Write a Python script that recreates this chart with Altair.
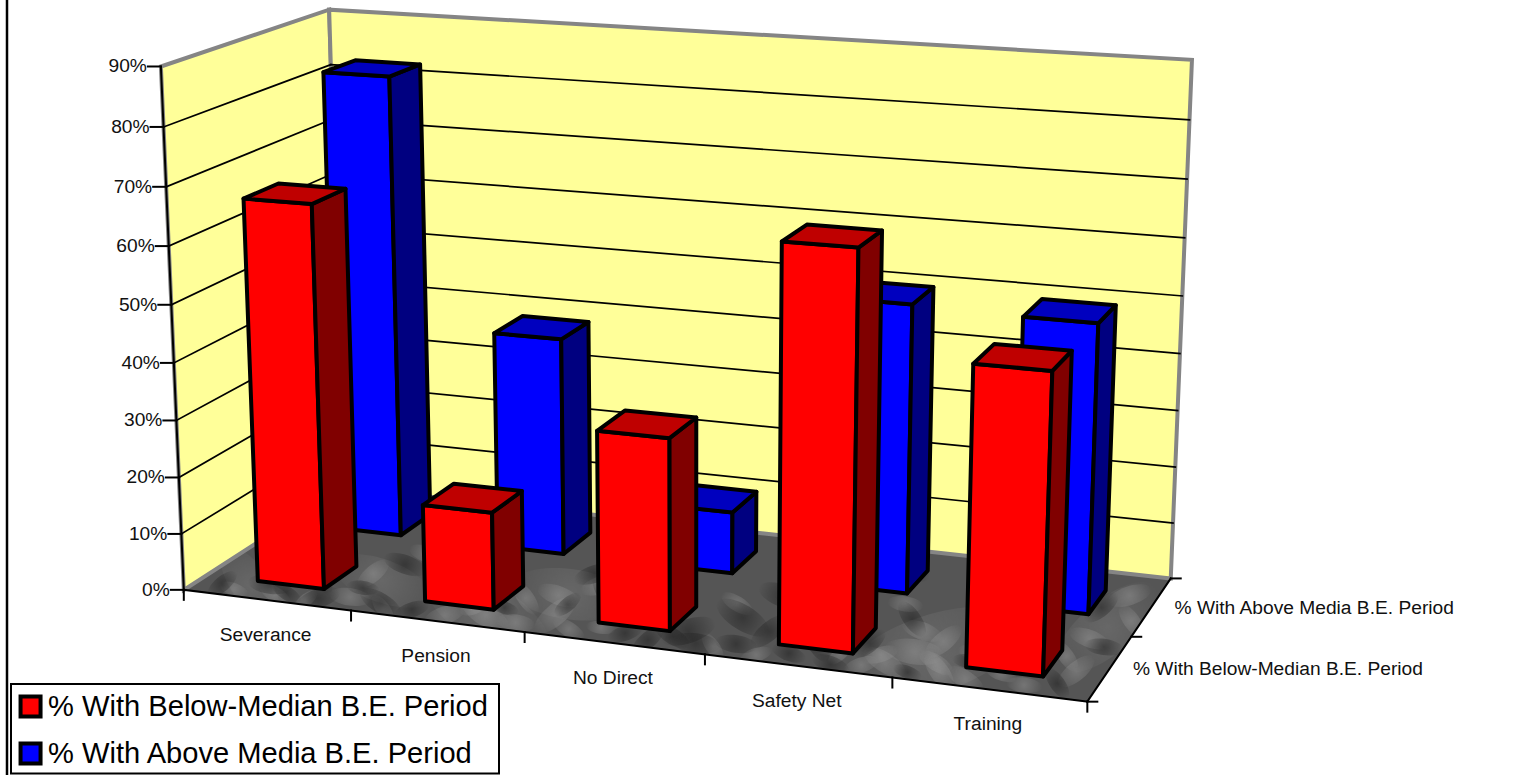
import altair as alt
import numpy as np
import pandas as pd

# Chart values
categories = ["Severance", "Pension", "No Direct", "Safety Net", "Training"]
below_median = [67, 17, 33, 67, 50]
above_median = [83, 39, 11, 50.5, 50]
series_names = ["% With Below-Median B.E. Period", "% With Above Media B.E. Period"]
value_ticks = [0, 10, 20, 30, 40, 50, 60, 70, 80, 90]
value_max = 90

# Mottling of the stone floor, as (along front, towards back, radius in px)
floor_light_broad = [(0.82, 0.20, 62), (0.34, 0.10, 48), (0.40, 0.32, 40), (0.97, 0.55, 42), (0.19, 0.25, 34), (0.06, 0.10, 30)]
floor_light_fine = [
    (0.30, 0.05, 14), (0.34, 0.09, 18), (0.38, 0.06, 13), (0.41, 0.15, 17), (0.39, 0.30, 15), (0.36, 0.25, 13),
    (0.42, 0.42, 14), (0.78, 0.10, 16), (0.80, 0.20, 20), (0.82, 0.30, 15), (0.79, 0.36, 14), (0.84, 0.08, 15),
    (0.76, 0.06, 12), (0.87, 0.05, 14), (0.93, 0.06, 12), (0.97, 0.20, 15), (0.96, 0.45, 14), (0.99, 0.62, 13),
    (0.97, 0.82, 15), (0.10, 0.05, 12), (0.18, 0.10, 14), (0.17, 0.30, 13), (0.20, 0.50, 13), (0.60, 0.06, 11),
    (0.65, 0.04, 11), (0.58, 0.40, 12), (0.75, 0.55, 12), (0.90, 0.75, 13), (0.50, 0.78, 12), (0.28, 0.80, 13),
    (0.77, 0.15, 12), (0.83, 0.14, 13), (0.86, 0.25, 12), (0.73, 0.12, 10), (0.90, 0.12, 11), (0.95, 0.30, 12),
    (0.32, 0.13, 10), (0.44, 0.06, 12), (0.47, 0.10, 10), (0.14, 0.03, 10), (0.05, 0.05, 10), (0.23, 0.04, 11),
]
floor_dark_fine = [
    (0.56, 0.15, 19), (0.60, 0.30, 20), (0.58, 0.07, 16), (0.53, 0.05, 13), (0.62, 0.50, 18), (0.66, 0.72, 16),
    (0.15, 0.06, 15), (0.22, 0.08, 16), (0.08, 0.12, 15), (0.03, 0.08, 12), (0.19, 0.40, 15), (0.44, 0.35, 16),
    (0.40, 0.50, 14), (0.92, 0.25, 15), (0.98, 0.40, 13), (0.95, 0.70, 14), (0.73, 0.04, 13), (0.77, 0.44, 14),
    (0.28, 0.90, 15), (0.72, 0.85, 15), (0.86, 0.18, 11), (0.75, 0.22, 13), (0.35, 0.16, 10), (0.12, 0.22, 13),
    (0.50, 0.08, 12), (0.55, 0.10, 13), (0.62, 0.10, 14), (0.64, 0.22, 15), (0.68, 0.08, 12), (0.70, 0.16, 13),
    (0.26, 0.06, 12), (0.11, 0.07, 11), (0.18, 0.18, 11), (0.41, 0.24, 11), (0.81, 0.05, 10), (0.96, 0.10, 12),
]
streak_angles = [-18, 32, 8, -40, 20, 55]

# Perspective camera of the 3-D box: (category, value, depth) -> page pixels
box_corners = [(0, 0, 0), (0, 1, 0), (0, 0, 1), (0, 1, 1), (1, 0, 1), (1, 1, 1), (1, 0, 0)]
page_corners = [(184, 590), (161, 66), (330, 484), (329, 10), (1171, 578), (1192, 60), (1087, 702)]
corner_weights = [1, 1, 0.1, 1, 1, 1, 1]  # the third corner sits behind the bars


def fit_camera(box, page, weights):
    rows = []
    for (a, b, c), (u, v), k in zip(box, page, weights):
        p = [a, b, c, 1]
        rows.append([k * t for t in p + [0, 0, 0, 0] + [-u * t for t in p]])
        rows.append([k * t for t in [0, 0, 0, 0] + p + [-v * t for t in p]])
    return np.linalg.svd(np.array(rows, float))[2][-1].reshape(3, 4)


camera = fit_camera(box_corners, page_corners, corner_weights)


def project(cat, val, depth):
    u, v, w = camera @ np.array([cat, val, depth, 1.0])
    return float(u / w), float(v / w)


n_cat = len(categories)
bar_span = (0.31, 0.71)      # bar extent inside a category slot
depth_span = (0.27, 0.68)    # bar extent inside a series slot

lines, labels = [], {"right": [], "center": [], "left": []}


def add_poly(store, key, pts, **style):
    for i, (x, y) in enumerate(pts):
        store.append({"key": key, "seq": i, "x": x, "y": y, **style})


def add_line(key, a, b, color="#000000", width=2.0):
    add_poly(lines, key, [a, b], color=color, width=width)


# Walls and floor
YELLOW, GRAY, FLOOR = "#ffff99", "#858585", "#555555"
side_wall = [project(0, 0, 0), project(0, 1, 0), project(0, 1, 1), project(0, 0, 1)]
back_wall = [project(0, 0, 1), project(0, 1, 1), project(1, 1, 1), project(1, 0, 1)]
floor = [project(0, 0, 0), project(0, 0, 1), project(1, 0, 1), project(1, 0, 0)]
floor_rows = []
add_poly(floor_rows, "floor", floor, face=FLOOR, edge=FLOOR, width=1)
walls = []
add_poly(walls, "side", side_wall, face=YELLOW, edge=GRAY, width=4)
add_poly(walls, "back", back_wall, face=YELLOW, edge=GRAY, width=4)

# White margin that trims the floor mottling along its open edges
W, H = 1539, 775
margin_rows = []
front_l, front_r, back_r = project(0, 0, 0), project(1, 0, 0), project(1, 0, 1)
add_poly(margin_rows, "margin", [
    (front_l[0] - 60, front_l[1]), front_l, front_r, back_r, (back_r[0] + 60, back_r[1]),
    (back_r[0] + 60, H), (front_l[0] - 60, H),
], face="#ffffff", edge="#ffffff", width=0)

# Value gridlines, ticks and tick labels
for t in value_ticks:
    f = t / value_max
    left = project(0, f, 0)
    if 0 < t < value_max:
        add_line(f"grid-side-{t}", left, project(0, f, 1), width=1.7)
        add_line(f"grid-back-{t}", project(0, f, 1), project(1, f, 1), width=1.7)
    add_line(f"ytick-{t}", (left[0] - 13, left[1]), left)
    labels["right"].append({"x": left[0] - 14, "y": left[1], "text": f"{t}%"})

# Axis edges
add_line("edge-left", project(0, 0, 0), project(0, 1, 0))
add_line("edge-front", project(0, 0, 0), project(1, 0, 0))
add_line("edge-right", project(1, 0, 0), project(1, 0, 1))
for i in range(n_cat + 1):
    p = project(i / n_cat, 0, 0)
    add_line(f"xtick-{i}", p, (p[0], p[1] + 10))
for i in range(3):
    p = project(1, 0, i / 2)
    add_line(f"ztick-{i}", p, (p[0] + 10, p[1]))

# Category and series labels
for i, name in enumerate(categories):
    p = project((i + 0.5) / n_cat, 0, 0)
    labels["center"].append({"x": p[0] - 1, "y": p[1] + 35, "text": name})
for i, name in enumerate(series_names):
    p = project(1, 0, 0.25 + i * 0.5)
    labels["left"].append({"x": p[0] + 23, "y": p[1] + 1, "text": name})

# Bars: three visible faces each, far series first so near bars overlap them
face_names = [series_names[0], series_names[1], "below side", "below top", "above side", "above top"]
face_colors = ["#ff0000", "#0000ff", "#800000", "#bf0000", "#000080", "#0000bf"]
bars = []


def add_bar(cat, value, slot, front, side, top):
    x0 = (cat + bar_span[0]) / n_cat
    x1 = (cat + bar_span[1]) / n_cat
    z0 = (slot + depth_span[0]) / 2
    z1 = (slot + depth_span[1]) / 2
    h = value / value_max
    tag = f"{cat}-{slot}"
    add_poly(bars, tag + "-f", [project(x0, 0, z0), project(x1, 0, z0), project(x1, h, z0), project(x0, h, z0)], face=front)
    add_poly(bars, tag + "-s", [project(x1, 0, z0), project(x1, 0, z1), project(x1, h, z1), project(x1, h, z0)], face=side)
    add_poly(bars, tag + "-t", [project(x0, h, z0), project(x1, h, z0), project(x1, h, z1), project(x0, h, z1)], face=top)


for i, v in enumerate(above_median):
    add_bar(i, v, 1, series_names[1], "above side", "above top")
for i, v in enumerate(below_median):
    add_bar(i, v, 0, series_names[0], "below side", "below top")

# Page-pixel scales shared by all layers
X = alt.X("x:Q", scale=alt.Scale(domain=[0, W], range=[0, W]), axis=None)
Y = alt.Y("y:Q", scale=alt.Scale(domain=[0, H], range=[0, H]), axis=None)


def polygon_layer(rows):
    return alt.Chart(pd.DataFrame(rows)).mark_line(interpolate="linear-closed", strokeJoin="miter").encode(
        x=X, y=Y, order="seq:Q", detail="key:N",
        fill=alt.Fill("face:N", scale=None),
        stroke=alt.Stroke("edge:N", scale=None),
        strokeWidth=alt.StrokeWidth("width:Q", scale=None),
    )


# A soft elongated fleck; tilted and layered, the flecks read as veined stone
FLECK = "M-1,0 A1,0.42 0 1,1 1,0 A1,0.42 0 1,1 -1,0 Z"


def mottle_layer(patches, rgb, alpha):
    rows = []
    for i, (u, v, r) in enumerate(patches):
        x, y = project(u, 0, v)
        rows.append({"x": x, "y": y, "area": 4 * (1.5 * r) ** 2, "tilt": (streak_angles[i % len(streak_angles)] + 360) % 360})
    soft = {
        "gradient": "radial",
        "stops": [
            {"offset": 0, "color": f"rgba({rgb},{alpha})"},
            {"offset": 0.75, "color": f"rgba({rgb},{alpha * 0.25})"},
            {"offset": 1, "color": f"rgba({rgb},0)"},
        ],
    }
    return alt.Chart(pd.DataFrame(rows)).mark_point(filled=True, shape=FLECK, fill=soft, opacity=1, strokeWidth=0).encode(
        x=X, y=Y, size=alt.Size("area:Q", scale=None), angle=alt.Angle("tilt:Q", scale=None)
    )


line_layer = alt.Chart(pd.DataFrame(lines)).mark_line(strokeCap="square").encode(
    x=X, y=Y, order="seq:Q", detail="key:N",
    stroke=alt.Stroke("color:N", scale=None),
    strokeWidth=alt.StrokeWidth("width:Q", scale=None),
)
bar_layer = alt.Chart(pd.DataFrame(bars)).mark_line(
    interpolate="linear-closed", stroke="#000000", strokeWidth=4, strokeJoin="round"
).encode(
    x=X, y=Y, order="seq:Q", detail="key:N",
    fill=alt.Fill(
        "face:N",
        scale=alt.Scale(domain=face_names, range=face_colors),
        legend=alt.Legend(
            values=series_names, title=None, orient="none", legendX=16, legendY=692,
            symbolType="square", symbolSize=400, symbolStrokeColor="#000000", symbolStrokeWidth=4,
            labelFont="Liberation Sans", labelFontSize=29.1, labelColor="#000000", labelLimit=500,
            labelOffset=3, rowPadding=10, padding=0,
        ),
    ),
)
text_layers = [
    alt.Chart(pd.DataFrame(rows)).mark_text(
        font="Liberation Sans", fontSize=19.2, color="#111111", baseline="middle", align=align
    ).encode(x=X, y=Y, text="text:N")
    for align, rows in labels.items()
]

legend_box = alt.Chart(pd.DataFrame({"x": [11], "x2": [499], "y": [684], "y2": [773.5]})).mark_rect(
    fill="#ffffff", stroke="#000000", strokeWidth=2
).encode(x=X, x2="x2:Q", y=Y, y2="y2:Q")

frame = alt.Chart(pd.DataFrame({"x": [7], "y": [0], "y2": [H]})).mark_rule(color="#000000", strokeWidth=2.5).encode(
    x=X, y=Y, y2="y2:Q"
)

chart = alt.layer(
    polygon_layer(floor_rows),
    mottle_layer(floor_light_broad, "125,125,125", 0.45),
    mottle_layer(floor_light_fine, "165,165,165", 0.4),
    mottle_layer(floor_dark_fine, "25,25,25", 0.5),
    polygon_layer(margin_rows),
    polygon_layer(walls),
    line_layer, bar_layer, *text_layers, legend_box, frame,
).resolve_scale(size="independent").properties(
    width=W, height=H, padding=0, autosize=alt.AutoSizeParams(type="none"), background="#ffffff"
).configure_view(stroke=None)

chart.save("out.html", embed_options={"renderer": "svg", "actions": False})
